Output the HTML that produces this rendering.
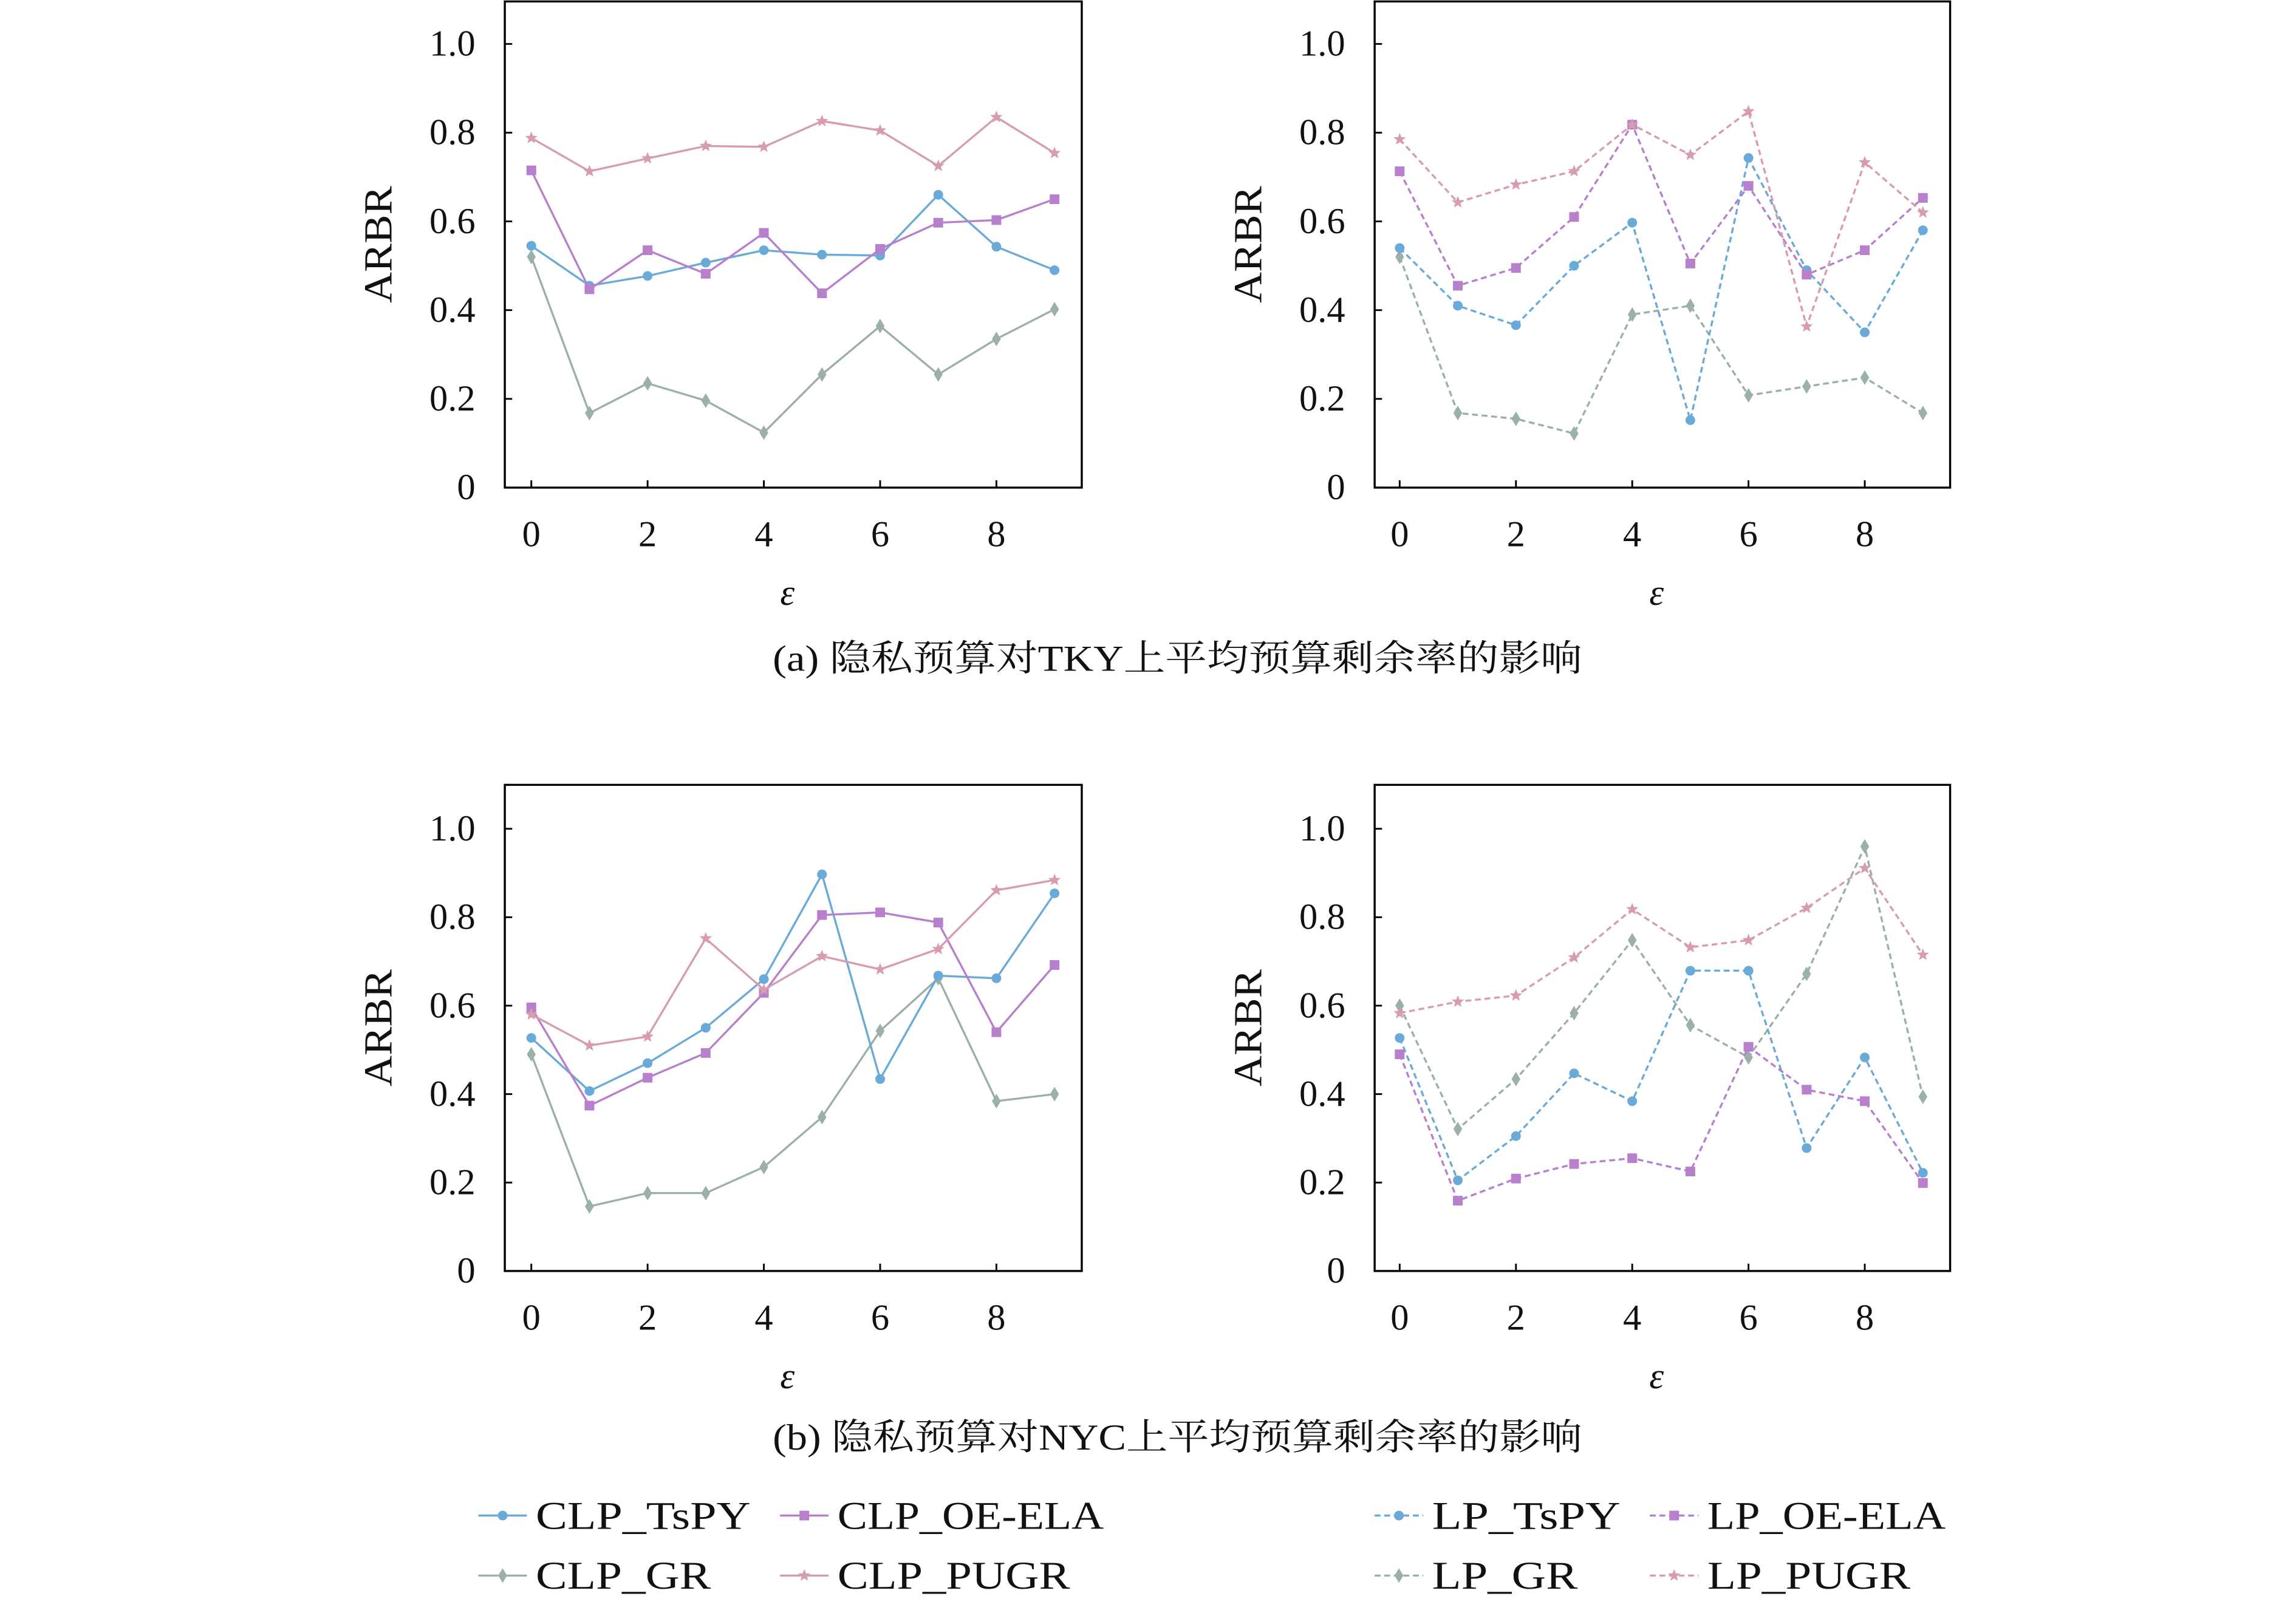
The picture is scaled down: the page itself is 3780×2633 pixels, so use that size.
<!DOCTYPE html>
<html><head><meta charset="utf-8">
<style>
html,body{margin:0;padding:0;background:#fff;}
svg{display:block;}
text{font-family:"Liberation Serif","Noto Serif CJK SC",serif;fill:#111;}
</style></head>
<body>
<svg id="s" width="3780" height="2633" viewBox="0 0 1560 1092" preserveAspectRatio="none" xmlns="http://www.w3.org/2000/svg"></svg>
<script>
const NS="http://www.w3.org/2000/svg";
const s=document.getElementById('s');
function el(t,a,txt){const e=document.createElementNS(NS,t);for(const k in a)e.setAttribute(k,a[k]);if(txt!=null)e.textContent=txt;s.appendChild(e);return e;}
const C={t:'#6aaad8',o:'#b87fcc',g:'#9bb0aa',p:'#d79cb0'};
function marker(type,x,y,c){
 if(type==='t')el('circle',{cx:x,cy:y,r:3.3,fill:c});
 else if(type==='o')el('rect',{x:x-3.3,y:y-3.3,width:6.6,height:6.6,fill:c});
 else if(type==='g')el('path',{d:`M${x} ${y-5}L${x+3} ${y}L${x} ${y+5}L${x-3} ${y}Z`,fill:c});
 else {let d='';for(let i=0;i<10;i++){const r=i%2?1.9:4.4;const a=-Math.PI/2+i*Math.PI/5;d+=(i?'L':'M')+(x+r*Math.cos(a)).toFixed(2)+' '+(y+r*Math.sin(a)).toFixed(2);}el('path',{d:d+'Z',fill:c});}
}
function panel(L,R,T,B,x0,y0,y1,dash,data){
 el('rect',{x:L,y:T,width:R-L,height:B-T,fill:'none',stroke:'#000','stroke-width':1.4});
 const sy=(y0-y1);
 const Y=v=>y0-sy*v, X=i=>x0+39.5*i;
 [0,0.2,0.4,0.6,0.8,1.0].forEach(v=>{
  el('line',{x1:L,x2:L+5,y1:Y(v),y2:Y(v),stroke:'#000','stroke-width':1.2});
  el('text',{x:L-20,y:Y(v)+8,'text-anchor':'end','font-size':25},v===0?'0':v.toFixed(1));
 });
 [0,2,4,6,8].forEach(i=>{
  el('line',{x1:X(i),x2:X(i),y1:B,y2:B-5,stroke:'#000','stroke-width':1.2});
  el('text',{x:X(i),y:B+40,'text-anchor':'middle','font-size':25},String(i));
 });
 el('text',{x:(L+R)/2-4,y:B+80,'text-anchor':'middle','font-size':25,'font-style':'italic'},'ε');
 el('text',{x:0,y:0,'text-anchor':'middle','font-size':27,textLength:80,lengthAdjust:'spacingAndGlyphs',transform:`translate(${L-77},${(T+B)/2}) rotate(-90)`},'ARBR');
 for(const k of ['g','t','o','p']){
  const pts=data[k].map((v,i)=>X(i).toFixed(1)+','+Y(v).toFixed(1)).join(' ');
  const a={points:pts,fill:'none',stroke:C[k],'stroke-width':1.4};
  if(dash)a['stroke-dasharray']='4,2.5';
  el('polyline',a);
  data[k].forEach((v,i)=>marker(k,X(i),Y(v),C[k]));
 }
}
panel(343,735,1,333,361,333,30,false,{
 t:[0.545,0.455,0.477,0.507,0.535,0.525,0.523,0.66,0.543,0.49],
 o:[0.715,0.447,0.535,0.482,0.574,0.438,0.538,0.597,0.603,0.65],
 g:[0.52,0.168,0.235,0.196,0.124,0.255,0.364,0.255,0.335,0.402],
 p:[0.788,0.713,0.742,0.77,0.768,0.826,0.805,0.725,0.835,0.754]});
panel(934,1325,1,333,951,333,30,true,{
 t:[0.54,0.41,0.366,0.50,0.597,0.152,0.743,0.49,0.35,0.58],
 o:[0.713,0.455,0.495,0.61,0.818,0.505,0.68,0.48,0.535,0.653],
 g:[0.52,0.168,0.155,0.122,0.39,0.41,0.208,0.228,0.248,0.168],
 p:[0.785,0.643,0.683,0.713,0.818,0.75,0.848,0.363,0.733,0.62]});
panel(343,735,536,868,361,868,566,false,{
 t:[0.527,0.407,0.47,0.55,0.66,0.897,0.434,0.668,0.662,0.854],
 o:[0.596,0.374,0.437,0.493,0.629,0.805,0.811,0.788,0.54,0.692],
 g:[0.49,0.146,0.176,0.176,0.235,0.348,0.543,0.662,0.384,0.4],
 p:[0.58,0.51,0.53,0.752,0.636,0.712,0.682,0.728,0.861,0.884]});
panel(934,1325,536,868,951,868,566,true,{
 t:[0.527,0.205,0.305,0.447,0.384,0.679,0.679,0.278,0.483,0.222],
 o:[0.49,0.159,0.209,0.242,0.255,0.225,0.507,0.41,0.384,0.199],
 g:[0.6,0.321,0.434,0.583,0.748,0.556,0.483,0.672,0.96,0.394],
 p:[0.583,0.609,0.623,0.709,0.818,0.732,0.748,0.821,0.911,0.715]});
el('text',{x:525,y:458,'font-size':25,textLength:550,lengthAdjust:'spacingAndGlyphs'},'(a)  隐私预算对TKY上平均预算剩余率的影响');
el('text',{x:525,y:990,'font-size':25,textLength:550,lengthAdjust:'spacingAndGlyphs'},'(b)  隐私预算对NYC上平均预算剩余率的影响');
function leg(x,y,k,label,w,dash){
 const a={x1:x,x2:x+33,y1:y,y2:y,stroke:C[k],'stroke-width':1.4};
 if(dash)a['stroke-dasharray']='4,2.5';
 el('line',a);marker(k,x+16.5,y,C[k]);
 el('text',{x:x+39,y:y+9,'font-size':27,textLength:w,lengthAdjust:'spacingAndGlyphs'},label);
}
leg(325,1035,'t','CLP_TsPY',146);leg(530,1035,'o','CLP_OE-ELA',181);
leg(325,1076,'g','CLP_GR',119);leg(530,1076,'p','CLP_PUGR',158);
leg(934,1035,'t','LP_TsPY',128,true);leg(1121,1035,'o','LP_OE-ELA',162,true);
leg(934,1076,'g','LP_GR',99,true);leg(1121,1076,'p','LP_PUGR',138,true);
</script>
</body></html>
